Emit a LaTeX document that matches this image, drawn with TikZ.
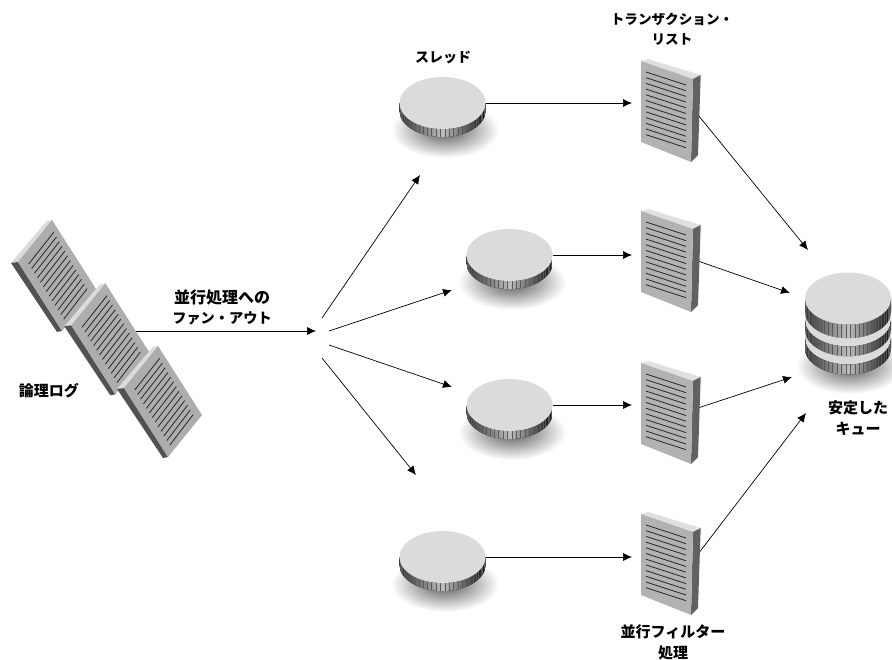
\documentclass[tikz,border=0pt]{standalone}
\usepackage{fontspec}
\usepackage{xcolor}
\usepackage{tikz}
\usetikzlibrary{arrows.meta}
\usetikzlibrary{positioning}
\usetikzlibrary{shapes.geometric}
\setmainfont{Noto Sans CJK JP}[BoldFont={Noto Sans CJK JP Black}]
\tikzset{
    label/.style = {font=\bfseries\fontsize{15}{21}\selectfont, align=center, inner sep=0pt},
    edgen/.style = {-{Latex[length=9pt,width=8pt]}, line width=0.7pt, black},
    holder/.style = {inner sep=0pt, outer sep=0pt},
    docface/.style = {fill=black!30},
    doctop/.style = {fill=black!12},
    docside/.style = {fill=black!62},
    docline/.style = {line width=0.8pt, black!85},
    disktop/.style = {fill=black!14},
    blurred/.style = {shading=radial, inner color=black!66, outer color=white},
}
% striped rim of a disk, left end at the centre height
\newcommand{\rimband}[3]{
    \begin{scope}
    \clip (#1-43,#2) arc[start angle=180,end angle=360,x radius=43pt,y radius=26pt]
        -- ++(0,#3) arc[start angle=360,end angle=180,x radius=43pt,y radius=26pt] -- cycle;
    \fill[left color=black!80, right color=black!95, middle color=black!25] (#1-43,#2-1) rectangle (#1+43,#2+#3+27);
    \foreach \k in {1,3,...,59}{
        \pgfmathsetmacro{\xk}{#1-43*cos(\k*3)}
        \draw[line width=0.4pt, black!65] (\xk,#2-1) -- (\xk,#2+#3+27);
    }
    \end{scope}
}
\newcommand{\thread}[3]{
    \rimband{#2}{#3}{8}
    \node[holder, disktop, ellipse, minimum width=86pt, minimum height=52pt] at (#2,#3) (#1) {};
}
\newcommand{\listdoc}[3]{
    \begin{scope}[shift={(#2,#3)}]
    \fill[doctop] (641,61) -- (648,59) -- (700.7,75) -- (693,79) -- cycle;
    \fill[docside] (693,79) -- (700.7,75) -- (698,155) -- (691,162) -- cycle;
    \fill[docface] (641,61) -- (693,79) -- (691,162) -- (641,142) -- cycle;
    \foreach \i in {0,...,11}{
        \draw[docline] (646,72+\i*5.7) -- (686,85+\i*5.7);
    }
    \end{scope}
    \node[holder, minimum width=60pt, minimum height=103pt] at (670.5+#2,110.5+#3) (#1) {};
}
\newcommand{\logdoc}[3]{
    \begin{scope}[shift={(#2,#3)}]
    \fill[black!14] (11,263) -- (46.7,221) -- (52,220) -- (18,262) -- cycle;
    \fill[black!68] (11,263) -- (18,262) -- (62,331) -- (57,332) -- cycle;
    \fill[black!32] (52,220) -- (96,289) -- (62,331) -- (18,262) -- cycle;
    \foreach \i in {0,...,12}{
        \draw[docline] (28.7+\i*2.92,264+\i*4.6) -- (53.7+\i*2.78,232.3+\i*4.7);
    }
    \end{scope}
    \node[holder, minimum width=50pt, minimum height=60pt] at (57+#2,275+#3) (#1) {};
}
\begin{document}
\begin{tikzpicture}[x=1pt, y=-1pt]
\useasboundingbox (0,0) rectangle (892,660);
\fill[white] (0,0) rectangle (892,660);
% shadows
\shade[blurred] (445,130) ellipse [x radius=54pt, y radius=28pt];
\shade[blurred] (512,282) ellipse [x radius=54pt, y radius=28pt];
\shade[blurred] (512,432) ellipse [x radius=54pt, y radius=28pt];
\shade[blurred] (445,584) ellipse [x radius=54pt, y radius=28pt];
\shade[blurred] (850,366) ellipse [x radius=54pt, y radius=28pt];
% free ends
\coordinate (fan) at (316,331);
\coordinate (up1) at (322,318);
\coordinate (up2) at (329,331);
\coordinate (dn1) at (329,345);
\coordinate (dn2) at (322,358);
\coordinate (t1in) at (420,175);
\coordinate (t2in) at (452,290);
\coordinate (t3in) at (452,387);
\coordinate (t4in) at (416,475);
\coordinate (l1in) at (632,103);
\coordinate (l2in) at (632,255);
\coordinate (l3in) at (632,405);
\coordinate (l4in) at (632,557);
\coordinate (l1out) at (694,110);
\coordinate (l2out) at (695,260);
\coordinate (l3out) at (695,409);
\coordinate (l4out) at (695,558);
\coordinate (q1) at (808,250);
\coordinate (q2) at (790,293);
\coordinate (q3) at (792,377);
\coordinate (q4) at (806,413);
%
\coordinate (logout) at (120,331);
\draw[edgen] (logout) -- (fan);
\draw[edgen] (up1) -- (t1in);
\draw[edgen] (up2) -- (t2in);
\draw[edgen] (dn1) -- (t3in);
\draw[edgen] (dn2) -- (t4in);
%
\draw[edgen] (l1out) -- (q1);
\draw[edgen] (l2out) -- (q2);
\draw[edgen] (l3out) -- (q3);
\draw[edgen] (l4out) -- (q4);
%
\logdoc{loga}{0}{0}
\logdoc{logb}{53.3}{63.3}
\logdoc{logc}{106}{126}
%
\thread{t1}{442.5}{103}
\thread{t2}{509.5}{255}
\thread{t3}{509.5}{405}
\thread{t4}{442.5}{557}
%
\listdoc{l1}{0}{0}
\listdoc{l2}{0}{150}
\listdoc{l3}{0}{302}
\listdoc{l4}{0}{453}
%
\draw[edgen] (t1.east) -- (l1in);
\draw[edgen] (t2.east) -- (l2in);
\draw[edgen] (t3.east) -- (l3in);
\draw[edgen] (t4.east) -- (l4in);
%
\rimband{848}{298.5}{14}
\fill[black!14] (805,312.5) arc[start angle=180,end angle=360,x radius=43pt,y radius=26pt]
    -- ++(0,8) arc[start angle=360,end angle=180,x radius=43pt,y radius=26pt] -- cycle;
\rimband{848}{320.5}{10}
\fill[black!14] (805,330.5) arc[start angle=180,end angle=360,x radius=43pt,y radius=26pt]
    -- ++(0,8) arc[start angle=360,end angle=180,x radius=43pt,y radius=26pt] -- cycle;
\rimband{848}{338.5}{10}
\node[holder, disktop, ellipse, minimum width=86pt, minimum height=52pt] at (848,298.5) (queue) {};
%
\node[label, font=\bfseries\fontsize{14}{21}\selectfont] at (443,58) (threadlbl) {スレッド};
\node[label, font=\bfseries\fontsize{13.6}{20}\selectfont] at (672,29) (listlbl) {トランザクション・\\リスト};
\node[label, font=\bfseries\fontsize{16}{21}\selectfont] at (222,297) (fanlbl) {並行処理への};
\node[label, font=\bfseries\fontsize{14.2}{21}\selectfont] at (222,318) (fanlbl2) {ファン・アウト};
\node[label] at (49,391) (loglbl) {論理ログ};
\node[label] at (858,418.5) (queuelbl) {安定した\\キュー};
\node[label] at (673,642) (filterlbl) {並行フィルター\\処理};
\end{tikzpicture}
\end{document}
